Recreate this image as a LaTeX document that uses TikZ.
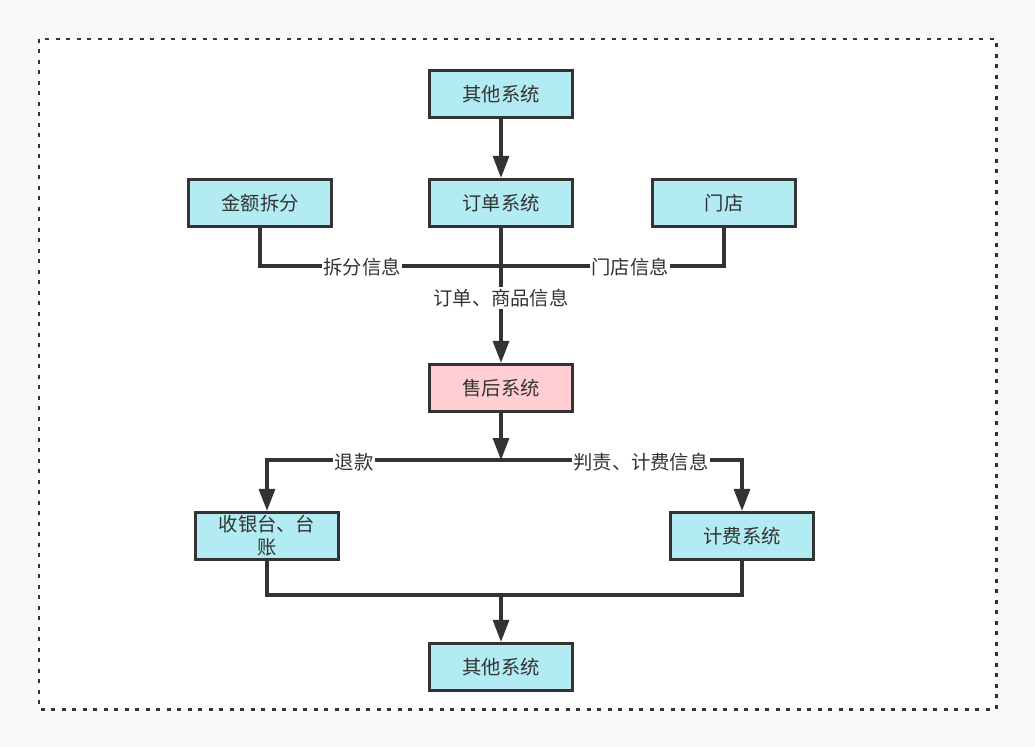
\documentclass[tikz,border=0pt]{standalone}
\usepackage{fontspec}
\setmainfont{Noto Sans CJK SC}
\usetikzlibrary{arrows.meta}
\definecolor{boxblue}{HTML}{B2EBF2}
\definecolor{boxpink}{HTML}{FFCDD2}
\definecolor{linegray}{HTML}{333333}
\definecolor{bggray}{HTML}{F9F9F9}
\tikzset{
  sysbox/.style={draw=linegray, line width=1.8pt, fill=boxblue, minimum width=2.86cm, minimum height=0.94cm,
    inner sep=1pt, align=center, text=linegray, font=\fontsize{11}{13}\selectfont},
  hotbox/.style={sysbox, fill=boxpink},
  link/.style={draw=linegray, line width=1.8pt},
  flow/.style={link, -{Triangle[length=0.44cm,width=0.32cm]}},
  lbl/.style={fill=white, inner sep=1pt, text=linegray, font=\fontsize{11}{12}\selectfont}
}
\begin{document}
\begin{tikzpicture}[x=0.02cm, y=-0.02cm]
% canvas and dotted frame
\fill[bggray] (0,0) rectangle (1035,747);
\useasboundingbox (0,0) rectangle (1035,747);
\draw[linegray, fill=white, line width=1.7pt, dash pattern=on 0.08cm off 0.13cm] (39,39) rectangle (996,709);

% systems
\node[sysbox] (srcsys) at (501,94) {其他系统};
\node[sysbox] (order) at (501,203) {订单系统};
\node[sysbox] (split) at (260,203) {金额拆分};
\node[sysbox] (store) at (724,203) {门店};
\node[hotbox] (after) at (501,388) {售后系统};
\node[sysbox] (cash) at (267,536) {收银台、台\\账};
\node[sysbox] (fee) at (742,536) {计费系统};
\node[sysbox] (dstsys) at (501,667) {其他系统};

% junctions
\coordinate (jtop) at (501,266);
\coordinate (jmid) at (501,460);
\coordinate (jbot) at (501,595);

% input side
\draw[flow] (srcsys) -- (order);
\draw[link] (split.south) |- (jtop);
\draw[link] (store.south) |- (jtop);
\draw[flow] (order) -- (after);
\node[lbl] (splitinfo) at (362,267) {拆分信息};
\node[lbl] (storeinfo) at (630,267) {门店信息};
\node[lbl] (orderinfo) at (501,298) {订单、商品信息};

% output side
\draw[flow] (after) -- (jmid);
\draw[flow] (jmid) -| (cash.north);
\draw[flow] (jmid) -| (fee.north);
\node[lbl] (refund) at (354,462) {退款};
\node[lbl] (feeinfo) at (641,462) {判责、计费信息};

% merge
\draw[link] (cash.south) |- (jbot) -| (fee.south);
\draw[flow] (jbot) -- (dstsys);
\end{tikzpicture}
\end{document}
